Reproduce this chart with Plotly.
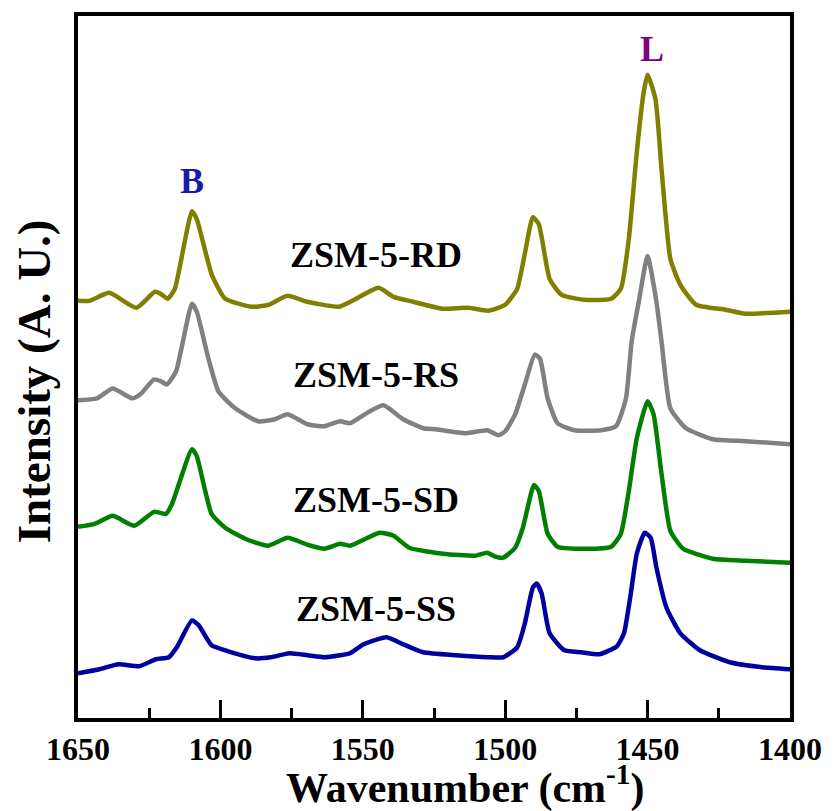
import plotly.graph_objects as go

# Pyridine-IR spectra of four ZSM-5 samples, vertically stacked (arbitrary units)
wn_rd = [1650, 1646, 1639, 1629.5, 1623, 1621, 1618.5, 1616, 1610, 1608.3, 1603, 1598.3, 1589, 1583,
         1576.5, 1569.5, 1566, 1558.3, 1553, 1544.5, 1539.2, 1532.3, 1522, 1513, 1506, 1500, 1495.8,
         1493, 1490.3, 1488.2, 1484.4, 1480.2, 1472.2, 1462.8, 1459.4, 1456.6, 1453.8, 1451.4, 1450,
         1447.2, 1445.1, 1442, 1438.5, 1433, 1422.6, 1415.6, 1400]
int_rd = [0.838, 0.838, 0.854, 0.824, 0.856, 0.852, 0.842, 0.862, 1.018, 1.002, 0.89, 0.842, 0.826, 0.83,
          0.848, 0.836, 0.832, 0.826, 0.84, 0.864, 0.846, 0.836, 0.822, 0.824, 0.818, 0.83, 0.862,
          0.936, 1.006, 0.992, 0.882, 0.85, 0.84, 0.842, 0.862, 0.962, 1.136, 1.256, 1.292,
          1.242, 1.102, 0.922, 0.87, 0.83, 0.82, 0.812, 0.816]

wn_rs = [1650, 1643.4, 1637.8, 1630.9, 1627.8, 1623.3, 1620.8, 1618.8, 1615.6, 1610, 1608.3, 1604.2,
         1600.7, 1594.8, 1586.8, 1580.9, 1576.4, 1569.4, 1563.5, 1558, 1554.5, 1547.6, 1542.7, 1535.8,
         1528.8, 1524.3, 1513.9, 1506.3, 1502.4, 1500, 1496.5, 1493.1, 1489.6, 1487.8, 1485.1, 1481.6,
         1475.7, 1466.3, 1461.1, 1457.6, 1455.6, 1453.1, 1450, 1446.9, 1445.1, 1442, 1436.5, 1427.1,
         1415.6, 1400]
int_rs = [0.638, 0.642, 0.662, 0.642, 0.652, 0.68, 0.676, 0.67, 0.696, 0.832, 0.816, 0.722,
          0.656, 0.622, 0.596, 0.6, 0.61, 0.59, 0.586, 0.596, 0.592, 0.616, 0.628, 0.6,
          0.582, 0.58, 0.572, 0.578, 0.568, 0.576, 0.61, 0.67, 0.73, 0.722, 0.642, 0.592,
          0.578, 0.578, 0.586, 0.642, 0.756, 0.836, 0.928, 0.836, 0.756, 0.622, 0.582, 0.56,
          0.556, 0.55]

wn_sd = [1650, 1644.1, 1637.8, 1630.2, 1623.3, 1619.1, 1617, 1610, 1608.3, 1603.1, 1598.3, 1591.3,
         1583.3, 1576.4, 1569.4, 1563.5, 1558, 1554.5, 1544.1, 1539.2, 1533.7, 1521.9, 1510.4, 1506.3,
         1503.5, 1500.7, 1496.5, 1493.8, 1489.9, 1488.2, 1485.1, 1481.6, 1473.3, 1462.8, 1459.4,
         1456.6, 1453.8, 1450, 1447.9, 1445.1, 1442, 1437.5, 1427.1, 1415.6, 1400]
int_sd = [0.384, 0.39, 0.406, 0.386, 0.414, 0.41, 0.43, 0.54, 0.526, 0.41, 0.382, 0.36,
          0.346, 0.362, 0.348, 0.34, 0.35, 0.346, 0.372, 0.366, 0.342, 0.33, 0.326, 0.332,
          0.324, 0.322, 0.342, 0.382, 0.468, 0.456, 0.37, 0.344, 0.34, 0.344, 0.37,
          0.456, 0.562, 0.636, 0.61, 0.49, 0.376, 0.34, 0.32, 0.316, 0.312]

wn_ss = [1650, 1642.4, 1635.8, 1628.5, 1622.6, 1618.1, 1615.3, 1610, 1607.6, 1603.1, 1598.3, 1587.8,
         1582.3, 1575.7, 1569.4, 1563.5, 1558, 1554.5, 1549.7, 1541.7, 1535.8, 1528.8, 1517.4, 1505.9,
         1500.7, 1495.8, 1493.1, 1490.3, 1488.9, 1487.2, 1484.4, 1479.2, 1473.3, 1467, 1460.8, 1458.3,
         1455.9, 1453.8, 1451, 1448.9, 1446.9, 1443.4, 1438.5, 1431.6, 1421.2, 1409.7, 1400]
int_ss = [0.09, 0.098, 0.108, 0.104, 0.118, 0.122, 0.142, 0.196, 0.186, 0.146, 0.136, 0.12,
          0.122, 0.13, 0.126, 0.122, 0.126, 0.13, 0.148, 0.162, 0.148, 0.132, 0.126, 0.122,
          0.122, 0.142, 0.19, 0.262, 0.27, 0.25, 0.17, 0.136, 0.132, 0.128, 0.144, 0.17,
          0.25, 0.33, 0.372, 0.362, 0.302, 0.222, 0.17, 0.136, 0.112, 0.102, 0.098]

sample_names = ["ZSM-5-RD", "ZSM-5-RS", "ZSM-5-SD", "ZSM-5-SS"]
line_colors = ["#808000", "#808080", "#008000", "#0000A0"]
label_pos = [(1545.5, 0.93), (1545.5, 0.688), (1545.2, 0.438), (1545.2, 0.218)]

x_ticks = [1650, 1600, 1550, 1500, 1450, 1400]
band_labels = [("B", 1610, 1.078, "#1A1AAA"), ("L", 1448.6, 1.344, "#800080")]

FONT = "Liberation Serif"

fig = go.Figure()
series = [(wn_rd, int_rd), (wn_rs, int_rs), (wn_sd, int_sd), (wn_ss, int_ss)]
for (wn, inten), name, color in zip(series, sample_names, line_colors):
    fig.add_trace(go.Scatter(
        x=wn, y=inten, mode="lines", name=name,
        line=dict(color=color, width=4.5, shape="spline", smoothing=0.5),
        showlegend=False,
    ))

for name, (lx, ly) in zip(sample_names, label_pos):
    fig.add_annotation(x=lx, y=ly, xref="x", yref="y", text=f"<b>{name}</b>",
                       showarrow=False, font=dict(family=FONT, size=36, color="black"))

for txt, bx, by, col in band_labels:
    fig.add_annotation(x=bx, y=by, xref="x", yref="y", text=f"<b>{txt}</b>",
                       showarrow=False, font=dict(family=FONT, size=36, color=col))

# axis titles
fig.add_annotation(x=0.544, y=-0.096, xref="paper", yref="paper",
                   xanchor="center", yanchor="middle",
                   text="<b>Wavenumber (cm<sup>-1</sup>)</b>", showarrow=False,
                   font=dict(family=FONT, size=42, color="black"))
fig.add_annotation(x=-0.0625, y=0.479, xref="paper", yref="paper", textangle=-90,
                   xanchor="center", yanchor="middle",
                   text="<b>Intensity (A. U.)</b>", showarrow=False,
                   font=dict(family=FONT, size=47, color="black"))

fig.update_xaxes(
    range=[1650, 1400], tickvals=x_ticks, ticktext=[f"<b>{t}</b>" for t in x_ticks],
    ticks="inside", ticklen=18, tickwidth=3, tickcolor="black",
    minor=dict(dtick=25, tick0=1400, ticks="inside", ticklen=10, tickwidth=3, tickcolor="black"),
    showline=True, linewidth=4, linecolor="black", mirror=True,
    showgrid=False, zeroline=False,
    tickfont=dict(family=FONT, size=32, color="black"),
)
fig.update_yaxes(
    range=[0, 1.41], showticklabels=False, ticks="",
    showline=True, linewidth=4, linecolor="black", mirror=True,
    showgrid=False, zeroline=False,
)
fig.update_layout(
    width=834, height=811,
    margin=dict(l=78, r=36, t=13, b=93),
    paper_bgcolor="white", plot_bgcolor="white",
    font=dict(family=FONT),
)
fig.write_html("out.html")
